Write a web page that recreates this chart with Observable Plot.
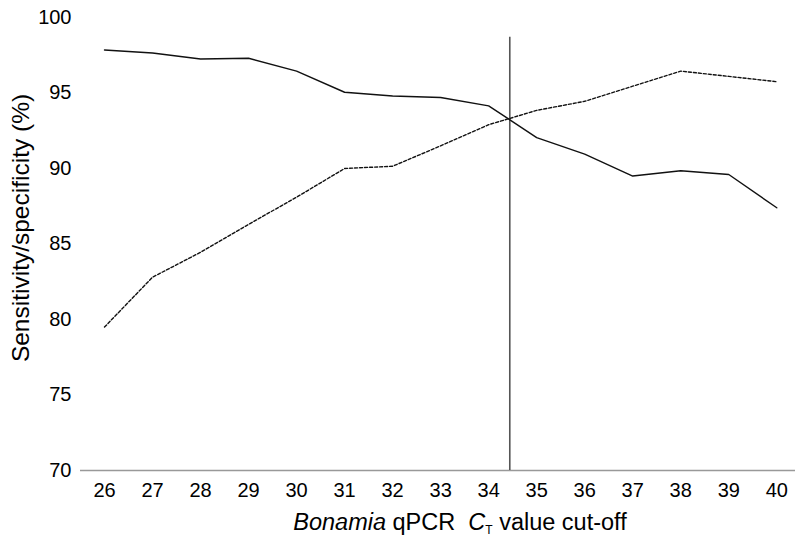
<!DOCTYPE html>
<html>
<head>
<meta charset="utf-8">
<script src="https://cdn.jsdelivr.net/npm/d3@7"></script>
<script src="https://cdn.jsdelivr.net/npm/@observablehq/plot@0.6"></script>
<style>
  html, body { margin: 0; padding: 0; background: #fff; }
  #chart svg { display: block; }
</style>
</head>
<body>
<div id="chart"></div>
<script>
// Ct value cut-offs
const cutoffs = [26, 27, 28, 29, 30, 31, 32, 33, 34, 35, 36, 37, 38, 39, 40];
// Solid line (decreasing)
const solidValues = [97.85, 97.65, 97.25, 97.3, 96.45, 95.05, 94.8, 94.7, 94.15, 92.05, 90.95, 89.5, 89.85, 89.6, 87.4];
// Dashed line (increasing)
const dashedValues = [79.5, 82.8, 84.45, 86.3, 88.1, 90.0, 90.15, 91.5, 92.9, 93.85, 94.45, 95.45, 96.45, 96.1, 95.75];
// Optimal cut-off marker
const optimalCutoff = [34.44];
const yTicks = [70, 75, 80, 85, 90, 95, 100];

const solid = cutoffs.map((c, i) => ({ct: c, v: solidValues[i]}));
const dashed = cutoffs.map((c, i) => ({ct: c, v: dashedValues[i]}));

const font = "'Liberation Sans', Arial, Helvetica, sans-serif";

const chart = Plot.plot({
  width: 795,
  height: 542,
  marginLeft: 80,
  marginRight: 0,
  marginTop: 17,
  marginBottom: 72,
  style: {fontFamily: font, fontSize: "20px", color: "#000", background: "#fff"},
  x: {domain: [25.5, 40.39], ticks: cutoffs, tickFormat: d => String(d)},
  y: {domain: [70, 100], ticks: yTicks},
  marks: [
    Plot.axisY({ticks: yTicks, tickSize: 0, tickPadding: 9, label: null, fontSize: 20}),
    Plot.axisX({ticks: cutoffs, tickSize: 0, tickPadding: 12, label: null, fontSize: 20}),
    Plot.ruleY([70], {stroke: "#999", strokeWidth: 1.5}),
    Plot.ruleX(optimalCutoff, {y1: 98.7, y2: 70, stroke: "#555", strokeWidth: 1.6}),
    Plot.line(solid, {x: "ct", y: "v", stroke: "#111", strokeWidth: 1.4}),
    Plot.line(dashed, {x: "ct", y: "v", stroke: "#111", strokeWidth: 1.4, strokeDasharray: "3,2"})
  ]
});

document.getElementById("chart").appendChild(chart);

const svg = d3.select(chart);
// y-axis title
svg.append("text")
  .attr("transform", "translate(29,228) rotate(-90)")
  .attr("text-anchor", "middle")
  .attr("font-family", font)
  .attr("font-size", 24.5)
  .attr("fill", "#000")
  .text("Sensitivity/specificity (%)");

// x-axis title with italic parts and subscript
const xt = svg.append("text")
  .attr("x", 460)
  .attr("y", 530)
  .attr("text-anchor", "middle")
  .attr("font-family", font)
  .attr("font-size", 23.5)
  .attr("fill", "#000");
xt.append("tspan").attr("font-style", "italic").text("Bonamia");
xt.append("tspan").text(" qPCR  ");
xt.append("tspan").attr("font-style", "italic").text("C");
xt.append("tspan").attr("font-size", 12).attr("dy", 4).text("T");
xt.append("tspan").attr("dy", -4).text(" value cut-off");
</script>
</body>
</html>
